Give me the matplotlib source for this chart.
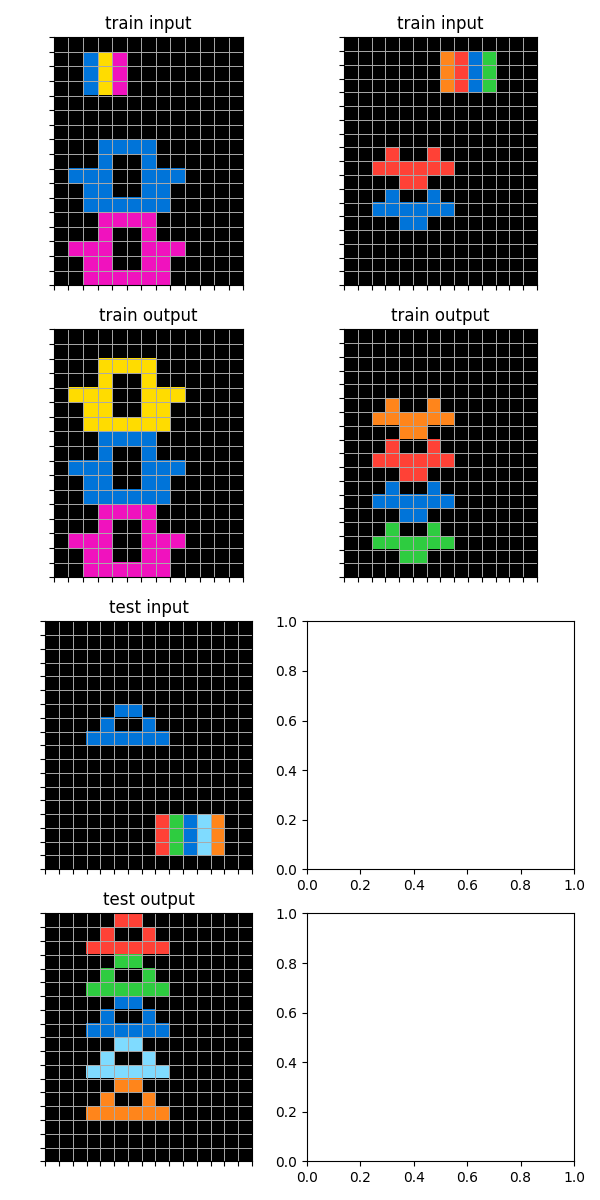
import numpy as np
import matplotlib
matplotlib.use("Agg")
import matplotlib.pyplot as plt
from matplotlib.colors import ListedColormap, BoundaryNorm

arc_colors = ['#000000', '#0074D9', '#FF4136', '#2ECC40', '#FFDC00',
              '#AAAAAA', '#F012BE', '#FF851B', '#7FDBFF', '#870C25']

train_input_1 = [
    "0000000000000", "0014600000000", "0014600000000", "0014600000000",
    "0000000000000", "0000000000000", "0000000000000",
    "0001111000000", "0001001000000", "0111001110000", "0011001100000", "0011111100000",
    "0006666000000", "0006006000000", "0666006660000", "0066006600000", "0066666600000",
]
train_output_1 = [
    "0000000000000", "0000000000000",
    "0004444000000", "0004004000000", "0444004440000", "0044004400000", "0044444400000",
    "0001111000000", "0001001000000", "0111001110000", "0011001100000", "0011111100000",
    "0006666000000", "0006006000000", "0666006660000", "0066006600000", "0066666600000",
]
train_input_2 = [
    "00000000000000", "00000007213000", "00000007213000", "00000007213000",
    "00000000000000", "00000000000000", "00000000000000", "00000000000000",
    "00020020000000", "00222222000000", "00002200000000",
    "00010010000000", "00111111000000", "00001100000000",
    "00000000000000", "00000000000000", "00000000000000", "00000000000000",
]
train_output_2 = [
    "00000000000000", "00000000000000", "00000000000000", "00000000000000", "00000000000000",
    "00070070000000", "00777777000000", "00007700000000",
    "00020020000000", "00222222000000", "00002200000000",
    "00010010000000", "00111111000000", "00001100000000",
    "00030030000000", "00333333000000", "00003300000000",
    "00000000000000",
]
test_input = [
    "000000000000000", "000000000000000", "000000000000000", "000000000000000",
    "000000000000000", "000000000000000",
    "000001100000000", "000010010000000", "000111111000000",
    "000000000000000", "000000000000000", "000000000000000", "000000000000000",
    "000000000000000",
    "000000002318700", "000000002318700", "000000002318700",
    "000000000000000",
]
test_output = [
    "000002200000000", "000020020000000", "000222222000000",
    "000003300000000", "000030030000000", "000333333000000",
    "000001100000000", "000010010000000", "000111111000000",
    "000008800000000", "000080080000000", "000888888000000",
    "000007700000000", "000070070000000", "000777777000000",
    "000000000000000", "000000000000000", "000000000000000",
]

panels = [
    (0, 0, "train input", train_input_1), (0, 1, "train input", train_input_2),
    (1, 0, "train output", train_output_1), (1, 1, "train output", train_output_2),
    (2, 0, "test input", test_input), (3, 0, "test output", test_output),
]

cmap = ListedColormap(arc_colors)
norm = BoundaryNorm(np.arange(-0.5, 10.5, 1), cmap.N)

fig, axes = plt.subplots(4, 2, figsize=(6, 12), dpi=100)
for r, c, title, rows in panels:
    ax = axes[r, c]
    grid = np.array([[int(ch) for ch in row] for row in rows])
    h, w = grid.shape
    ax.imshow(grid, cmap=cmap, norm=norm)
    ax.set_xticks(np.arange(-0.5, w, 1))
    ax.set_yticks(np.arange(-0.5, h, 1))
    ax.set_xticklabels([])
    ax.set_yticklabels([])
    ax.grid(True, color='#aaaaaa', linewidth=0.7)
    ax.set_title(title)
plt.tight_layout()
fig.savefig("out.png")
